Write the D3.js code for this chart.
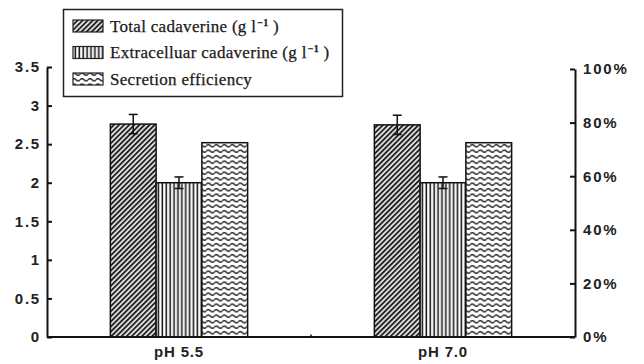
<!DOCTYPE html>
<html>
<head>
<meta charset="utf-8">
<script src="https://cdn.jsdelivr.net/npm/d3@7/dist/d3.min.js"></script>
<style>
  html, body { margin: 0; padding: 0; background: #fff; }
  svg { display: block; }
</style>
</head>
<body>
<svg id="chart" width="644" height="364"></svg>
<script>
// ---- data ----
const categories = ["pH 5.5", "pH 7.0"];
const seriesNames = ["Total cadaverine", "Extracelluar cadaverine", "Secretion efficiency"];
const totalCadaverine = [2.76, 2.75];          // g l-1
const totalErr = [0.125, 0.125];
const extracellularCadaverine = [2.0, 2.0];    // g l-1
const extracellularErr = [0.075, 0.075];
const secretionEfficiency = [72.5, 72.5];      // %
const leftTicks = [0, 0.5, 1, 1.5, 2, 2.5, 3, 3.5];
const rightTicks = [0, 20, 40, 60, 80, 100];

// ---- layout ----
const svg = d3.select("#chart");
const plotLeft = 47, plotRight = 575, plotBottom = 337, leftTop = 67, rightTop = 69;

const x0 = d3.scaleBand().domain(categories).range([plotLeft, plotRight]).padding(0);
const groupW = x0.bandwidth() * 0.52;
const x1 = d3.scaleBand().domain(seriesNames).range([0, groupW]).padding(0);
const yL = d3.scaleLinear().domain([0, 3.5]).range([plotBottom, leftTop]);
const yR = d3.scaleLinear().domain([0, 100]).range([plotBottom, rightTop]);

// ---- patterns ----
const defs = svg.append("defs");
const pDiag = defs.append("pattern").attr("id", "pDiag").attr("patternUnits", "userSpaceOnUse")
  .attr("width", 3.6).attr("height", 3.6).attr("patternTransform", "rotate(45)");
pDiag.append("rect").attr("width", 3.6).attr("height", 3.6).attr("fill", "#dcdcdc");
pDiag.append("rect").attr("x", 0).attr("width", 1.7).attr("height", 3.6).attr("fill", "#1a1a1a");

const pVert = defs.append("pattern").attr("id", "pVert").attr("patternUnits", "userSpaceOnUse")
  .attr("width", 3.9).attr("height", 4);
pVert.append("rect").attr("width", 3.9).attr("height", 4).attr("fill", "#ffffff");
pVert.append("rect").attr("x", 0.5).attr("width", 1.6).attr("height", 4).attr("fill", "#1a1a1a");

const pWave = defs.append("pattern").attr("id", "pWave").attr("patternUnits", "userSpaceOnUse")
  .attr("width", 8).attr("height", 5.5);
pWave.append("rect").attr("width", 8).attr("height", 5.5).attr("fill", "#ffffff");
pWave.append("path").attr("d", "M0,2.7 Q2,0.6 4,2.7 T8,2.7")
  .attr("fill", "none").attr("stroke", "#1a1a1a").attr("stroke-width", 1.5);

const fills = ["url(#pDiag)", "url(#pVert)", "url(#pWave)"];

// ---- bars ----
const rows = categories.map((c, i) => ({
  cat: c,
  bars: [
    { s: seriesNames[0], y: yL(totalCadaverine[i]), err: totalErr[i], v: totalCadaverine[i], scale: yL },
    { s: seriesNames[1], y: yL(extracellularCadaverine[i]), err: extracellularErr[i], v: extracellularCadaverine[i], scale: yL },
    { s: seriesNames[2], y: yR(secretionEfficiency[i]), err: null, v: secretionEfficiency[i], scale: yR }
  ]
}));

const groups = svg.append("g").selectAll("g").data(rows).join("g")
  .attr("transform", d => `translate(${x0(d.cat) + (x0.bandwidth() - groupW) / 2},0)`);

groups.selectAll("rect").data(d => d.bars).join("rect")
  .attr("x", d => x1(d.s))
  .attr("y", d => d.y)
  .attr("width", x1.bandwidth())
  .attr("height", d => plotBottom - d.y)
  .attr("fill", (d, i) => fills[i])
  .attr("stroke", "#111")
  .attr("stroke-width", 1.5);

// error bars
const capW = 4.5;
groups.selectAll("g.err").data(d => d.bars.filter(b => b.err != null)).join("g").attr("class", "err")
  .each(function (d) {
    const g = d3.select(this);
    const cx = x1(d.s) + x1.bandwidth() / 2;
    const yt = d.scale(d.v + d.err), yb = d.scale(d.v - d.err);
    g.append("line").attr("x1", cx).attr("x2", cx).attr("y1", yt).attr("y2", yb);
    g.append("line").attr("x1", cx - capW).attr("x2", cx + capW).attr("y1", yt).attr("y2", yt);
    g.append("line").attr("x1", cx - capW).attr("x2", cx + capW).attr("y1", yb).attr("y2", yb);
  })
  .selectAll("line").attr("stroke", "#111").attr("stroke-width", 1.5);

// ---- axes ----
const axisFont = "'Liberation Sans', Arial, sans-serif";
const gL = svg.append("g").attr("transform", `translate(${plotLeft},0)`)
  .call(d3.axisLeft(yL).tickValues(leftTicks).tickSize(-5).tickSizeOuter(0).tickPadding(8)
    .tickFormat(d => String(d)));
const gR = svg.append("g").attr("transform", `translate(${plotRight},0)`)
  .call(d3.axisRight(yR).tickValues(rightTicks).tickSize(-5).tickSizeOuter(0).tickPadding(8)
    .tickFormat(d => d + "%"));
[gL, gR].forEach(g => {
  g.select(".domain").attr("stroke", "#111").attr("stroke-width", 2);
  g.selectAll(".tick line").attr("stroke", "#111").attr("stroke-width", 2);
  g.selectAll(".tick text").attr("fill", "#222").attr("font-family", axisFont)
    .attr("font-weight", "bold").attr("font-size", 15).attr("letter-spacing", 1.8);
});
gL.selectAll(".tick text").attr("dx", 2);

// baseline
svg.append("line").attr("x1", plotLeft).attr("x2", plotRight)
  .attr("y1", yL(0)).attr("y2", yL(0)).attr("stroke", "#111").attr("stroke-width", 2);

// category axis
const gX = svg.append("g").attr("transform", `translate(0,${plotBottom})`)
  .call(d3.axisBottom(x0).tickSize(0).tickPadding(9.5));
gX.select(".domain").remove();
gX.selectAll(".tick text").attr("fill", "#222").attr("font-family", axisFont)
  .attr("font-weight", "bold").attr("font-size", 15).attr("letter-spacing", 0.8);
// small boundary tick between categories
svg.append("line").attr("x1", x0(categories[1])).attr("x2", x0(categories[1]))
  .attr("y1", plotBottom - 2.5).attr("y2", plotBottom).attr("stroke", "#111").attr("stroke-width", 1.5);

// ---- legend ----
const legend = svg.append("g");
legend.append("rect").attr("x", 63.5).attr("y", 9.5).attr("width", 279).attr("height", 87)
  .attr("fill", "#fff").attr("stroke", "#222").attr("stroke-width", 1.5);
const legendLabels = [
  ["Total cadaverine (g l", "−1", " )"],
  ["Extracelluar cadaverine (g l", "−1", " )"],
  ["Secretion efficiency", "", ""]
];
const rowY = [20, 46.5, 73];
legendLabels.forEach((lab, i) => {
  legend.append("rect").attr("x", 73).attr("y", rowY[i]).attr("width", 30).attr("height", 12)
    .attr("fill", fills[i]).attr("stroke", "#222").attr("stroke-width", 1.2);
  const t = legend.append("text").attr("x", 110).attr("y", rowY[i] + 11.8)
    .attr("font-family", "'Liberation Serif', 'Times New Roman', serif").attr("font-size", 17)
    .attr("fill", "#1a1a1a").attr("letter-spacing", 0.3).attr("stroke", "#1a1a1a").attr("stroke-width", 0.25);
  t.append("tspan").text(lab[0]);
  if (lab[1]) {
    t.append("tspan").attr("font-size", 10).attr("dy", -6).attr("dx", 1).attr("font-weight", "bold").text(lab[1]);
    t.append("tspan").attr("dy", 6).text(lab[2]);
  }
});
</script>
</body>
</html>
